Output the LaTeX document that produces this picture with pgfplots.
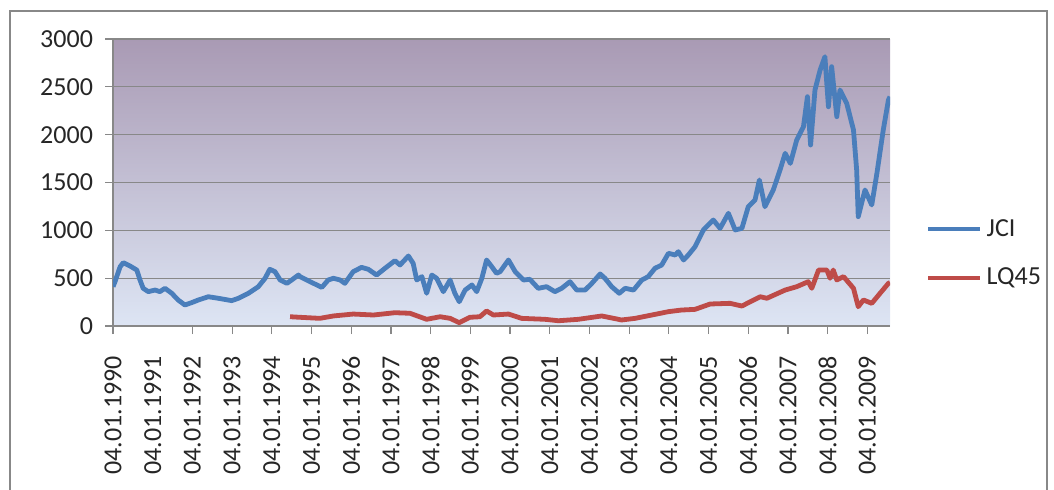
\documentclass[border=0pt]{standalone}
\usepackage{fontspec}
\setmainfont{Carlito}
\usepackage{pgfplots}
\pgfplotsset{compat=1.18}
\definecolor{jciblue}{HTML}{4A7EBB}
\definecolor{lqred}{HTML}{BE4B48}
\definecolor{gridgray}{HTML}{888888}
\definecolor{bgtop}{HTML}{A99AB4}
\definecolor{bgmid}{HTML}{B4C2E8}
\definecolor{bgbot}{HTML}{DDE5F4}
\begin{document}
\begin{tikzpicture}
\useasboundingbox (0,0) rectangle (527pt,244.5pt);
\draw[gridgray, line width=0.8pt] (5pt,-2pt) -- (5pt,239pt) -- (523.5pt,239pt) -- (523.5pt,-2pt);
\begin{axis}[
  at={(56.5pt,81.5pt)}, anchor=south west,
  scale only axis, width=388.5pt, height=143.5pt,
  xmin=1990, xmax=2009.57, ymin=0, ymax=3000,
  axis x line*=bottom, axis y line*=left,
  axis line style={gridgray, line width=0.6pt},
  every axis plot/.append style={line join=round},
  ytick={0,500,...,3000},
  xtick={1990,1992,1993,1994,1995,1996,1997,1998,1999,2000,2001,2002,2003,2004,2005,2006,2007,2008,2009},
  xticklabels={04.01.1990,04.01.1992,04.01.1993,04.01.1994,04.01.1995,04.01.1996,04.01.1997,04.01.1998,04.01.1999,04.01.2000,04.01.2001,04.01.2002,04.01.2003,04.01.2004,04.01.2005,04.01.2006,04.01.2007,04.01.2008,04.01.2009},
  extra x ticks={1991},
  extra x tick labels={04.01.1991},
  extra x tick style={major tick length=0pt, grid=none, xticklabel shift=11.5pt},
  ymajorgrids,
  grid style={gridgray, line width=0.6pt},
  tick align=outside,
  major tick length=4pt,
  tick style={gridgray, line width=0.6pt},
  /pgf/number format/assume math mode=true,
  /pgf/number format/1000 sep={},
  tick label style={font=\fontsize{13}{15}\selectfont, text=black!85},
  xticklabel style={rotate=90, anchor=east},
  xticklabel shift=7.5pt,
  yticklabel shift=2.5pt,
  axis background/.style={top color=bgtop, middle color=bgmid, bottom color=bgbot},
  legend style={at={(1.038,0.2526)}, anchor=west, draw=none, fill=none,
    font=\fontsize{13}{15}\selectfont, row sep=10.5pt, text=black!85},
  legend cell align=left,
  legend image code/.code={\draw[#1] (0pt,0pt) -- (26pt,0pt);},
]
\addplot[jciblue, line width=2.4pt] coordinates {
(1990.00,411) (1990.05,463) (1990.18,620) (1990.26,662) (1990.43,627) (1990.60,585)
(1990.68,481) (1990.76,394) (1990.89,359) (1991.06,376) (1991.18,359) (1991.31,394)
(1991.48,342) (1991.64,272) (1991.81,220) (1991.98,244) (1992.15,272) (1992.40,306)
(1992.65,290) (1992.99,265) (1993.16,290) (1993.41,342) (1993.66,411) (1993.83,499)
(1993.95,593) (1994.08,568) (1994.21,481) (1994.38,446) (1994.50,481) (1994.67,533)
(1994.71,516) (1994.88,481) (1995.05,446) (1995.26,404) (1995.42,481) (1995.55,499)
(1995.72,481) (1995.84,446) (1996.05,568) (1996.26,613) (1996.43,593) (1996.64,533)
(1996.85,603) (1997.10,683) (1997.23,638) (1997.44,732) (1997.56,655) (1997.65,481)
(1997.78,516) (1997.90,342) (1998.03,533) (1998.15,499) (1998.32,359) (1998.49,481)
(1998.61,342) (1998.72,254) (1998.87,376) (1999.04,429) (1999.16,359) (1999.29,499)
(1999.41,690) (1999.54,620) (1999.66,551) (1999.75,568) (1999.96,690) (2000.13,568)
(2000.34,481) (2000.50,488) (2000.71,394) (2000.92,411) (2001.13,359) (2001.30,394)
(2001.51,463) (2001.68,376) (2001.89,376) (2002.06,446) (2002.27,544) (2002.39,499)
(2002.56,411) (2002.75,342) (2002.90,394) (2003.11,376) (2003.32,481) (2003.48,516)
(2003.65,603) (2003.82,638) (2003.99,760) (2004.16,742) (2004.24,777) (2004.37,690)
(2004.49,742) (2004.66,829) (2004.87,1004) (2005.12,1108) (2005.29,1021) (2005.50,1178)
(2005.67,1004) (2005.84,1021) (2006.00,1247) (2006.17,1317) (2006.28,1526) (2006.42,1247)
(2006.63,1422) (2006.80,1631) (2006.93,1805) (2007.06,1700) (2007.22,1944) (2007.39,2083)
(2007.49,2397) (2007.57,1892) (2007.68,2467) (2007.81,2676) (2007.93,2815) (2008.02,2292)
(2008.10,2711) (2008.23,2188) (2008.31,2467) (2008.48,2327) (2008.65,2049) (2008.73,1631)
(2008.77,1143) (2008.94,1422) (2009.11,1265) (2009.24,1596) (2009.40,2049) (2009.53,2362)
(2009.57,2397)
};
\addlegendentry{JCI}
\addplot[lqred, line width=2.4pt] coordinates {
(1994.46,97) (1994.71,91) (1995.21,80) (1995.55,105) (1996.05,125) (1996.56,115)
(1997.10,139) (1997.48,133) (1997.90,70) (1998.24,97) (1998.49,80) (1998.72,35)
(1998.99,91) (1999.24,97) (1999.41,157) (1999.58,115) (1999.96,125) (2000.29,80)
(2000.88,70) (2001.22,55) (2001.72,70) (2002.31,105) (2002.81,63) (2003.15,80)
(2003.57,115) (2003.99,150) (2004.32,167) (2004.66,174) (2005.04,230) (2005.54,237)
(2005.84,209) (2006.30,306) (2006.47,290) (2006.93,376) (2007.22,411) (2007.51,463)
(2007.60,394) (2007.77,585) (2007.98,585) (2008.06,499) (2008.14,585) (2008.23,481)
(2008.40,516) (2008.65,394) (2008.77,202) (2008.90,272) (2009.11,237) (2009.32,342)
(2009.53,446) (2009.57,453)
};
\addlegendentry{LQ45}
\end{axis}
\end{tikzpicture}
\end{document}
